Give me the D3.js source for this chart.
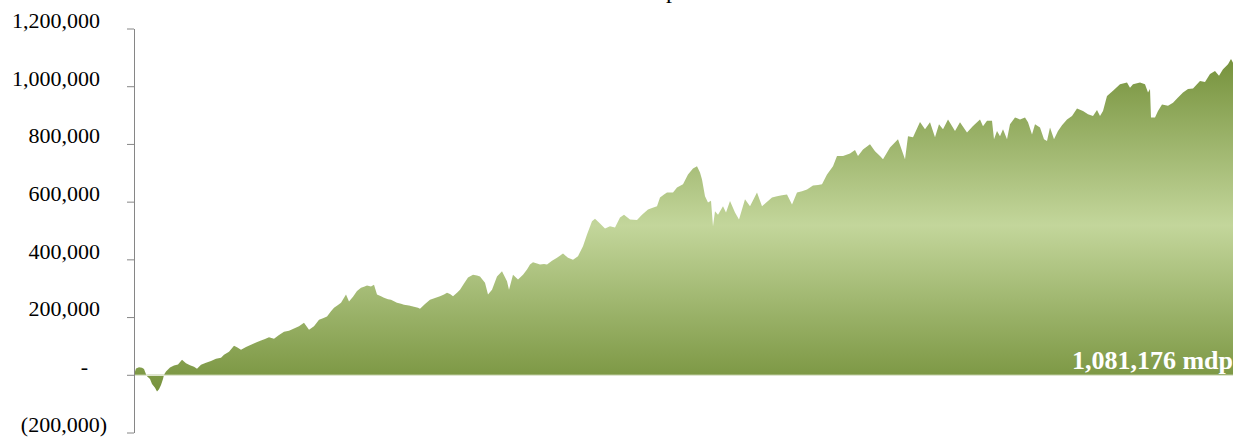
<!DOCTYPE html>
<html>
<head>
<meta charset="utf-8">
<script src="https://cdnjs.cloudflare.com/ajax/libs/d3/7.8.5/d3.min.js"></script>
<style>
  body { margin: 0; background: #fff; }
  text { font-family: 'Liberation Serif', 'DejaVu Serif', serif; }
</style>
</head>
<body>
<div class="canvas"></div>
<script>
// sesiones desde el inicio del periodo
const sesion = [
  0, 8, 20, 32, 40, 48, 52, 64, 72, 84, 92, 100, 108, 116, 120, 128, 144, 160, 176, 192,
  208, 224, 240, 252, 268, 288, 308, 328, 348, 360, 380, 400, 412, 428, 448, 468, 488, 508, 524, 540,
  560, 580, 600, 620, 640, 660, 680, 700, 720, 740, 756, 772, 788, 800, 816, 828, 848, 860, 876, 892,
  908, 920, 932, 948, 960, 972, 988, 1000, 1016, 1028, 1040, 1052, 1068, 1080, 1100, 1120, 1136, 1144, 1164, 1184,
  1204, 1224, 1240, 1252, 1264, 1276, 1292, 1304, 1320, 1336, 1356, 1372, 1384, 1404, 1416, 1432, 1452, 1472, 1492, 1500,
  1516, 1536, 1556, 1572, 1584, 1596, 1612, 1624, 1640, 1652, 1672, 1692, 1716, 1736, 1756, 1776, 1796, 1812, 1832, 1844,
  1864, 1884, 1904, 1924, 1944, 1960, 1984, 2012, 2032, 2056, 2072, 2092, 2104, 2120, 2132, 2156, 2172, 2196, 2216, 2236,
  2252, 2264, 2272, 2284, 2296, 2308, 2316, 2324, 2336, 2356, 2368, 2384, 2404, 2420, 2444, 2464, 2492, 2512, 2536, 2552,
  2572, 2592, 2612, 2632, 2652, 2672, 2692, 2716, 2736, 2752, 2772, 2796, 2812, 2836, 2864, 2884, 2896, 2916, 2944, 2964,
  2984, 2996, 3024, 3056, 3084, 3096, 3116, 3144, 3164, 3184, 3204, 3220, 3236, 3256, 3284, 3304, 3332, 3356, 3384, 3396,
  3412, 3432, 3440, 3452, 3464, 3476, 3492, 3504, 3524, 3544, 3564, 3576, 3592, 3604, 3624, 3640, 3652, 3664, 3680, 3696,
  3712, 3732, 3752, 3772, 3796, 3816, 3836, 3852, 3864, 3876, 3892, 3916, 3944, 3972, 3984, 3996, 4024, 4044, 4056, 4064,
  4068, 4084, 4096, 4112, 4136, 4156, 4176, 4196, 4216, 4236, 4264, 4284, 4304, 4324, 4340, 4356, 4376, 4388, 4396
];

// saldo acumulado (mdp)
const saldo = [
  0, 22000, 26000, 24000, 20000, 2000, -5000, -15000, -32000, -45000, -58000, -50000, -35000, -15000, 0, 11000, 25000, 32000, 36000, 52000,
  40000, 33000, 28000, 21000, 35000, 42000, 48000, 56000, 59000, 69000, 80000, 101000, 95000, 87000, 96000, 104000, 112000, 119000, 124000, 130000,
  125000, 138000, 149000, 153000, 160000, 168000, 180000, 156000, 168000, 191000, 196000, 202000, 220000, 232000, 242000, 250000, 278000, 254000, 270000, 290000,
  302000, 305000, 309000, 306000, 312000, 278000, 272000, 267000, 262000, 260000, 255000, 250000, 246000, 243000, 240000, 236000, 232000, 229000, 245000, 260000,
  266000, 272000, 278000, 284000, 280000, 272000, 284000, 295000, 316000, 337000, 347000, 344000, 341000, 319000, 278000, 295000, 341000, 359000, 324000, 295000,
  347000, 330000, 347000, 365000, 382000, 390000, 386000, 382000, 384000, 382000, 395000, 406000, 420000, 406000, 399000, 411000, 445000, 486000, 532000, 541000,
  524000, 507000, 515000, 510000, 545000, 555000, 538000, 536000, 555000, 573000, 578000, 584000, 614000, 625000, 632000, 632000, 649000, 660000, 694000, 715000,
  723000, 701000, 677000, 619000, 597000, 603000, 515000, 567000, 555000, 584000, 562000, 602000, 562000, 538000, 608000, 584000, 632000, 584000, 602000, 614000,
  619000, 622000, 625000, 590000, 632000, 636000, 642000, 656000, 658000, 660000, 694000, 723000, 758000, 758000, 767000, 779000, 758000, 781000, 799000, 775000,
  758000, 747000, 788000, 816000, 747000, 827000, 823000, 876000, 851000, 875000, 823000, 868000, 851000, 885000, 845000, 875000, 840000, 862000, 885000, 861000,
  880000, 880000, 816000, 845000, 827000, 851000, 816000, 868000, 892000, 885000, 892000, 875000, 833000, 868000, 857000, 816000, 810000, 857000, 816000, 845000,
  865000, 885000, 897000, 923000, 914000, 903000, 897000, 918000, 897000, 914000, 966000, 984000, 1007000, 1013000, 995000, 1007000, 1013000, 1007000, 978000, 990000,
  892000, 892000, 914000, 937000, 932000, 943000, 961000, 978000, 990000, 992000, 1018000, 1015000, 1042000, 1053000, 1036000, 1059000, 1076000, 1094000, 1081176
];

const yTicks = [-200000, 0, 200000, 400000, 600000, 800000, 1000000, 1200000];
const titulo = 'Rendimiento acumulado en mdp';
const unidad = 'mdp';

const dims = { width: 1243, height: 439 };
const plot = { left: 134, right: 1233, top: 28.5, bottom: 432.5 };

const data = sesion.map((s, i) => ({ s, v: saldo[i] }));

const svg = d3.select('.canvas')
  .append('svg')
  .attr('width', dims.width)
  .attr('height', dims.height);

const x = d3.scaleLinear()
  .domain(d3.extent(sesion))
  .range([plot.left, plot.right]);

const y = d3.scaleLinear()
  .domain([yTicks[0], yTicks[yTicks.length - 1]])
  .range([plot.bottom, plot.top]);

// gradient (dark - light - dark), relative to the area's box
const grad = svg.append('defs').append('linearGradient')
  .attr('id', 'fillGrad')
  .attr('x1', 0).attr('y1', 0).attr('x2', 0).attr('y2', 1);
grad.append('stop').attr('offset', '0%').attr('stop-color', '#76923c');
grad.append('stop').attr('offset', '50%').attr('stop-color', '#c3d69b');
grad.append('stop').attr('offset', '100%').attr('stop-color', '#76923c');

const area = d3.area()
  .x(d => x(d.s))
  .y0(y(0))
  .y1(d => y(d.v));

svg.append('path')
  .datum(data)
  .attr('d', area)
  .attr('fill', 'url(#fillGrad)');

// zero line
svg.append('line')
  .attr('x1', plot.left).attr('x2', plot.right)
  .attr('y1', Math.round(y(0)) + 0.5).attr('y2', Math.round(y(0)) + 0.5)
  .attr('stroke', '#dfe6cf')
  .attr('stroke-width', 1);

// y axis, accounting style labels
const fmt = d3.format(',');
const yAxis = d3.axisLeft(y)
  .tickValues(yTicks)
  .tickSize(7)
  .tickSizeOuter(0)
  .tickPadding(20)
  .tickFormat(d => d === 0 ? '-' : d < 0 ? `(${fmt(-d)})` : fmt(d));

const axisG = svg.append('g')
  .attr('transform', `translate(${plot.left}, 0)`)
  .call(yAxis);

axisG.select('.domain').attr('stroke', '#868686');
axisG.selectAll('.tick line').attr('stroke', '#868686');
axisG.selectAll('.tick text')
  .attr('fill', '#000')
  .attr('font-size', 22)
  .attr('font-family', "'Liberation Serif', serif")
  .attr('dy', '-0.05em')
  .attr('dx', d => d === 0 ? -19 : d > 0 ? -7 : 0);

// title (sits mostly above the frame, as in the source)
svg.append('text')
  .attr('x', 678)
  .attr('y', -2)
  .attr('text-anchor', 'end')
  .attr('font-size', 24)
  .attr('fill', '#000')
  .text(titulo);

// final value label
const last = data[data.length - 1];
svg.append('text')
  .attr('x', x(last.s))
  .attr('y', y(0) - 6)
  .attr('text-anchor', 'end')
  .attr('font-size', 26)
  .attr('font-weight', 'bold')
  .attr('fill', '#fff')
  .text(`${fmt(last.v)} ${unidad}`);
</script>
</body>
</html>
